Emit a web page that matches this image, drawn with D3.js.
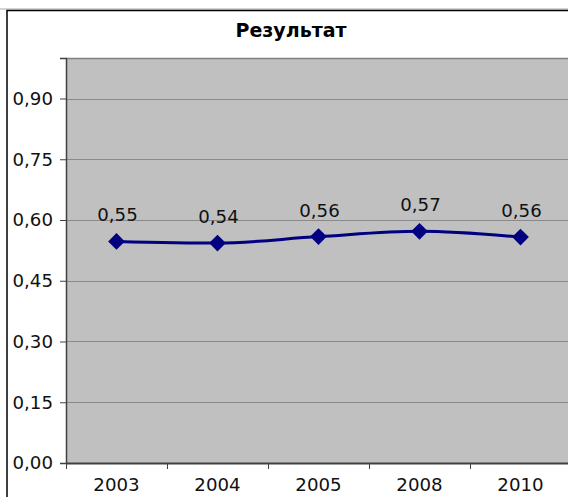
<!DOCTYPE html>
<html><head><meta charset="utf-8">
<script src="https://cdn.jsdelivr.net/npm/d3@7"></script>
<style>body{margin:0;background:#fff}svg{display:block}</style>
</head><body>
<script>
const title = "Результат";
const categories = ["2003","2004","2005","2008","2010"];
const values = [0.547, 0.543, 0.559, 0.572, 0.558];
const labels = ["0,55","0,54","0,56","0,57","0,56"];
const yTicks = [0, 0.15, 0.30, 0.45, 0.60, 0.75, 0.90];

const W = 568, H = 497;
const svg = d3.select("body").append("svg").attr("width", W).attr("height", H);
const font = "'DejaVu Sans', Verdana, sans-serif";
const fs = "18.2px";

svg.append("line").attr("x1",0).attr("x2",W).attr("y1",9).attr("y2",9).attr("stroke","#a8a8a8").attr("stroke-width",1);
svg.append("rect").attr("x",7).attr("y",10.5).attr("width",W).attr("height",H).attr("fill","#fff").attr("stroke","#000").attr("stroke-width",1.5);

const pl = 66, pt = 58, pr = 571, pb = 463;
const x = d3.scaleBand().domain(categories).range([pl, pr]);
const y = d3.scaleLinear().domain([0, 1.0]).range([pb, pt]);

svg.append("rect").attr("x",pl).attr("y",pt).attr("width",pr-pl).attr("height",pb-pt).attr("fill","#c0c0c0");
svg.append("line").attr("x1",pl).attr("x2",W).attr("y1",pt+0.5).attr("y2",pt+0.5).attr("stroke","#808080").attr("stroke-width",1.5);

svg.append("g").selectAll("line").data(yTicks.filter(d=>d>0)).join("line")
  .attr("x1",pl).attr("x2",W).attr("y1",d=>Math.round(y(d))+0.5).attr("y2",d=>Math.round(y(d))+0.5)
  .attr("stroke","#8a8a8a").attr("stroke-width",1);

const fmt = d => d3.format(".2f")(d).replace(".", ",");
const yAxis = svg.append("g").attr("transform",`translate(${pl},0)`)
  .call(d3.axisLeft(y).tickValues(yTicks).tickFormat(fmt).tickSize(6).tickPadding(7));
yAxis.select(".domain").attr("stroke","#404040").attr("stroke-width",1.5);
yAxis.selectAll(".tick line").attr("stroke","#404040");
yAxis.selectAll("text").attr("font-family",font).attr("font-size",fs).attr("fill","#111");

const xAxis = svg.append("g").attr("transform",`translate(0,${pb})`)
  .call(d3.axisBottom(x).tickSize(0).tickPadding(15));
xAxis.select(".domain").remove();
xAxis.selectAll("text").attr("font-family",font).attr("font-size",fs).attr("fill","#111");
svg.append("line").attr("x1",pl).attr("x2",W).attr("y1",pb+0.5).attr("y2",pb+0.5).attr("stroke","#404040").attr("stroke-width",2);
svg.append("g").selectAll("line").data(categories).join("line")
  .attr("x1",d=>x(d)+0.5).attr("x2",d=>x(d)+0.5).attr("y1",pb).attr("y2",pb+6)
  .attr("stroke","#404040").attr("stroke-width",1);

const pts = categories.map((c,i)=>[x(c)+x.bandwidth()/2, y(values[i])]);
svg.append("path").attr("d", d3.line().curve(d3.curveMonotoneX)(pts))
  .attr("fill","none").attr("stroke","#000080").attr("stroke-width",3);
svg.append("g").selectAll("path").data(pts).join("path")
  .attr("d", d3.symbol().type(d3.symbolSquare).size(140))
  .attr("transform", d=>`translate(${d[0]},${d[1]}) rotate(45)`)
  .attr("fill","#000080");
svg.append("g").selectAll("text").data(pts).join("text")
  .attr("x",d=>d[0]+1).attr("y",d=>d[1]-20).attr("text-anchor","middle")
  .attr("font-family",font).attr("font-size",fs).attr("fill","#111")
  .text((d,i)=>labels[i]);

svg.append("text").attr("x",291).attr("y",37).attr("text-anchor","middle")
  .attr("font-family",font).attr("font-weight","bold").attr("font-size","19px").attr("fill","#000")
  .text(title);
</script>
</body></html>
